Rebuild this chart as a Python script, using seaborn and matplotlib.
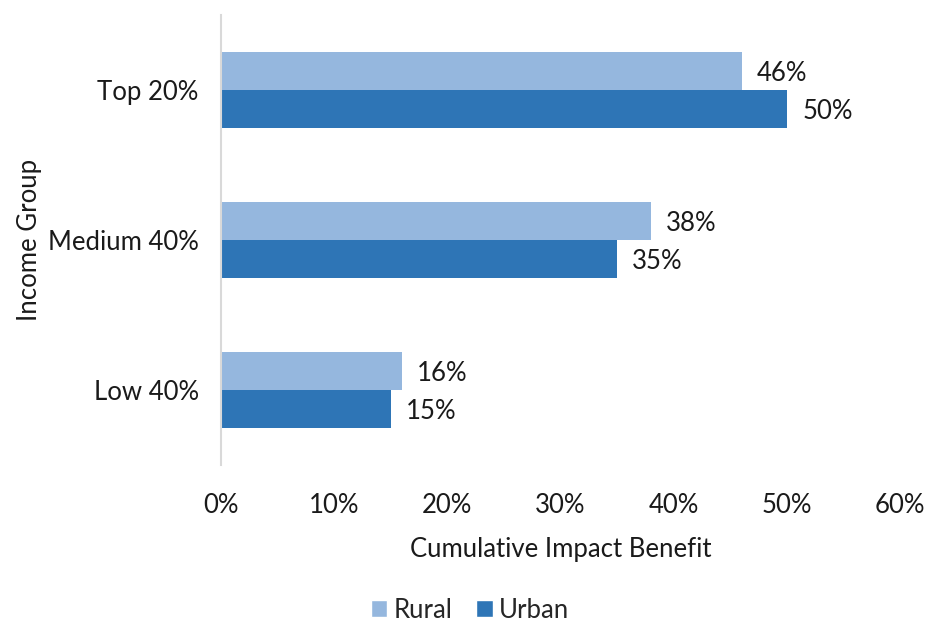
import matplotlib
matplotlib.use("Agg")
import matplotlib.pyplot as plt
from matplotlib.patches import Patch
import seaborn as sns
import pandas as pd

groups = ["Top 20%", "Medium 40%", "Low 40%"]
series = ["Rural", "Urban"]
rural = [0.46, 0.38, 0.16]
urban = [0.50, 0.35, 0.15]
x_ticks = [0.0, 0.1, 0.2, 0.3, 0.4, 0.5, 0.6]

colors = {"Rural": "#95B7DE", "Urban": "#2E75B6"}
text_color = "#1a1a1a"
fs = 18.5

df = pd.DataFrame({
    "Income Group": groups * 2,
    "Series": ["Rural"] * len(groups) + ["Urban"] * len(groups),
    "Value": rural + urban,
})

sns.set_theme(style="white")
plt.rcParams["font.family"] = ["Lato", "DejaVu Sans"]

fig = plt.figure(figsize=(9.36, 6.22), dpi=100)
ax = fig.add_axes([221 / 936, 1 - 465 / 622, (900 - 221) / 936, (465 - 15) / 622])

sns.barplot(data=df, y="Income Group", x="Value", hue="Series",
            order=groups, hue_order=series, palette=colors,
            width=0.507, orient="h", ax=ax, legend=False,
            saturation=1, linewidth=0)

for container in ax.containers:
    labels = [f"{v * 100:.0f}%" for v in container.datavalues]
    texts = ax.bar_label(container, labels=labels, padding=11, fontsize=fs,
                         color=text_color)
    for t in texts:
        t.set_va("center_baseline")

ax.set_xlim(0, 0.6)
ax.set_ylim(2.5, -0.5)
ax.set_xticks(x_ticks)
ax.set_xticklabels([f"{t * 100:.0f}%" for t in x_ticks])
ax.tick_params(axis="both", length=0, labelsize=fs, colors=text_color)
ax.tick_params(axis="x", pad=20)
ax.tick_params(axis="y", pad=16)

for side in ["top", "right", "bottom"]:
    ax.spines[side].set_visible(False)
ax.spines["left"].set_color("#D9D9D9")
ax.spines["left"].set_linewidth(1.5)

ax.set_xlabel("Cumulative Impact Benefit", fontsize=fs, color=text_color, labelpad=14)
ax.set_ylabel("Income Group", fontsize=fs, color=text_color, labelpad=4)

handles = [Patch(facecolor=colors[s], label=s) for s in series]
fig.legend(handles=handles, loc="center", bbox_to_anchor=(470 / 936, 1 - 610 / 622),
           ncol=2, frameon=False, fontsize=fs, handlelength=0.65, handleheight=0.65,
           handletextpad=0.25, columnspacing=0.9)

fig.savefig("out.png", dpi=100)
